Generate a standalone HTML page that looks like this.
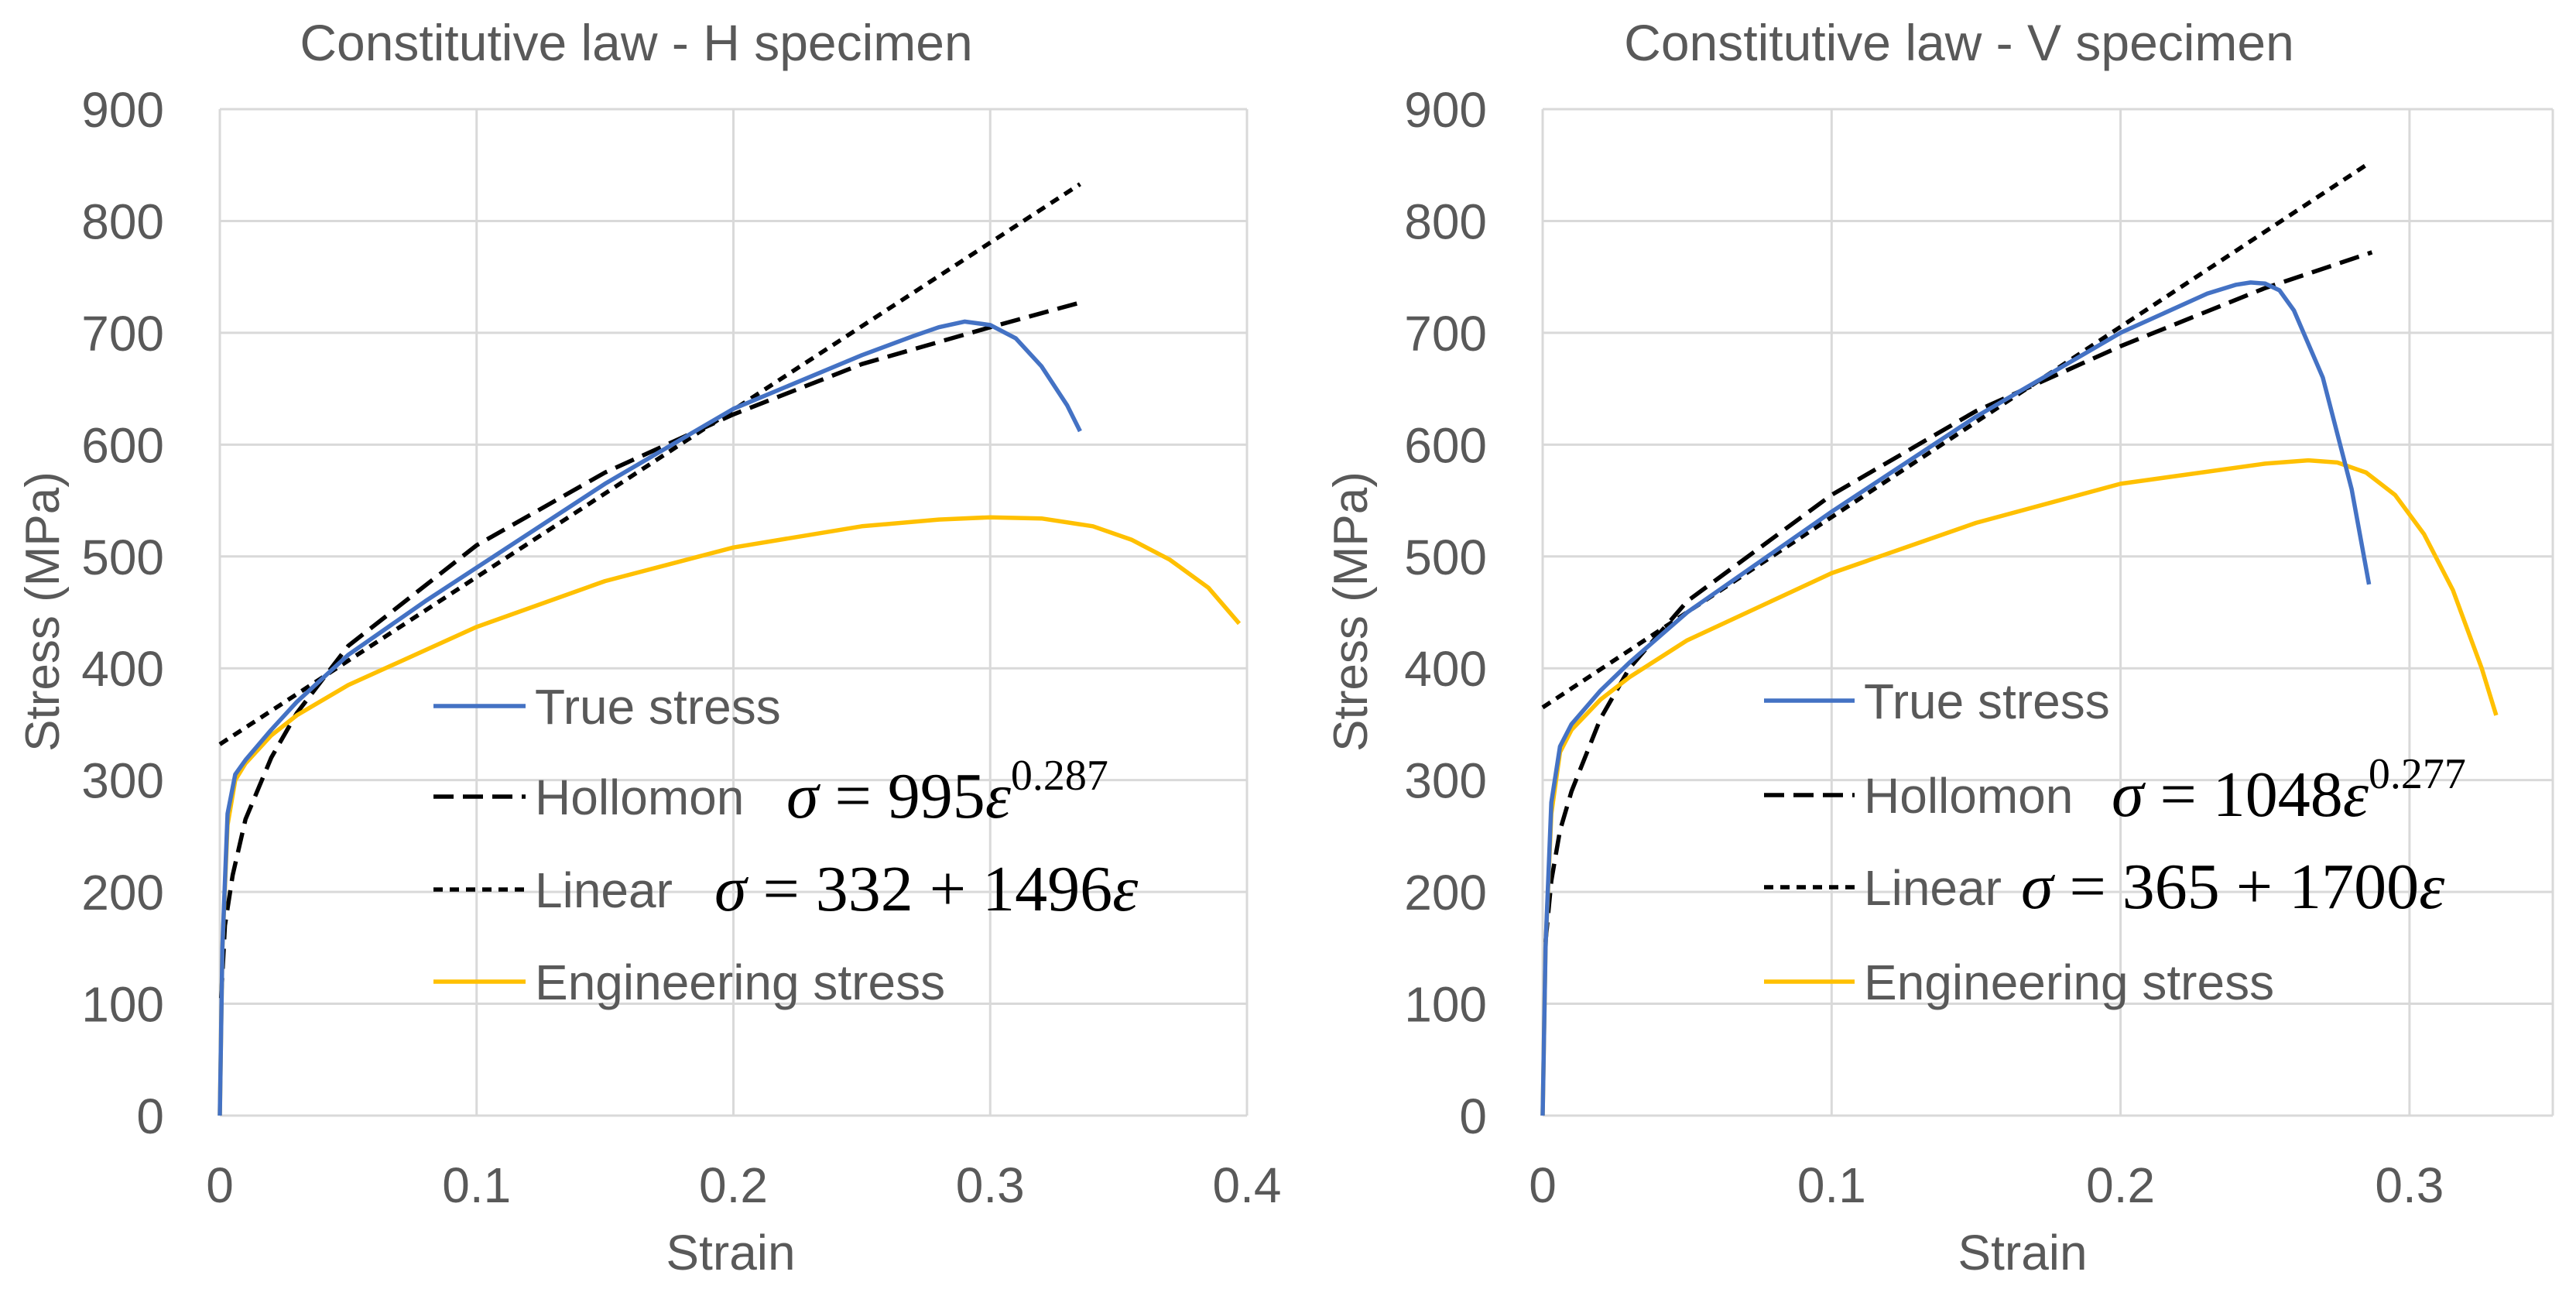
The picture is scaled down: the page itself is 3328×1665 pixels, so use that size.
<!DOCTYPE html>
<html><head><meta charset="utf-8"><style>
body{margin:0;background:#fff;}
svg text{font-family:"Liberation Sans",sans-serif;fill:#595959;}
.eq{font-family:"Liberation Serif",serif;fill:#000;}
</style></head><body>
<svg id="svg" width="3328" height="1660" xmlns="http://www.w3.org/2000/svg"></svg>
<script>
// ===== Data =====
const yTicks=[0,100,200,300,400,500,600,700,800,900];
const xTicksH=[0,0.1,0.2,0.3,0.4];
const xTicksV=[0,0.1,0.2,0.3];
const hTrueX=[0,0.001,0.003,0.006,0.01,0.02,0.03,0.05,0.08,0.1,0.15,0.2,0.25,0.27,0.28,0.29,0.3,0.31,0.32,0.33,0.335];
const hTrueY=[0,150,270,305,318,345,370,412,460,490,565,632,680,697,705,710,707,695,670,635,612];
const hEngX=[0,0.001,0.003,0.006,0.01,0.02,0.03,0.05,0.1,0.15,0.2,0.25,0.28,0.3,0.32,0.34,0.355,0.37,0.385,0.397];
const hEngY=[0,150,260,300,315,340,358,385,437,478,508,527,533,535,534,527,515,497,472,440];
const hHolX=[0.0005,0.002,0.005,0.01,0.02,0.03,0.05,0.1,0.15,0.2,0.25,0.3,0.335];
const hHolY=[105,170,215,265,320,360,420,510,575,627,672,705,727];
const hLinX=[0,0.335];
const hLinY=[332,833];
const vTrueX=[0,0.001,0.003,0.006,0.01,0.02,0.03,0.05,0.1,0.15,0.2,0.23,0.24,0.245,0.25,0.255,0.26,0.27,0.28,0.286];
const vTrueY=[0,150,280,330,350,380,405,450,540,625,700,735,743,745,744,738,720,660,560,475];
const vEngX=[0,0.001,0.003,0.006,0.01,0.02,0.03,0.05,0.1,0.15,0.2,0.25,0.265,0.275,0.285,0.295,0.305,0.315,0.325,0.33];
const vEngY=[0,150,270,325,345,372,392,425,485,530,565,583,586,584,575,555,520,470,400,358];
const vHolX=[0.001,0.003,0.006,0.01,0.02,0.03,0.05,0.1,0.15,0.2,0.25,0.287];
const vHolY=[155,210,255,290,355,400,460,555,630,688,740,772];
const vLinX=[0,0.285];
const vLinY=[365,850];

const NS="http://www.w3.org/2000/svg";
const svg=document.getElementById('svg');
function mk(tag,attrs,parent){const e=document.createElementNS(NS,tag);for(const k in attrs)e.setAttribute(k,attrs[k]);(parent||svg).appendChild(e);return e;}

function chart(cfg){
  const g=mk('g',{});
  
  
  const X=v=>cfg.x0+v*cfg.xs, Y=v=>1441-v*(1300/900);
  yTicks.forEach(t=>{
    const l=mk('line',{x1:cfg.x0,x2:cfg.xr,y1:Y(t),y2:Y(t),stroke:'#d9d9d9','stroke-width':3},g);
    
    
    const tx=mk('text',{x:cfg.x0-72,y:Y(t)+23,'text-anchor':'end','font-size':64},g);
    tx.textContent=t;
    
    
  });
  cfg.xt.forEach(t=>{
    const l=mk('line',{x1:X(t),x2:X(t),y1:Y(0),y2:Y(900),stroke:'#d9d9d9','stroke-width':3},g);
    
    
    const tx=mk('text',{x:X(t),y:1553,'text-anchor':'middle','font-size':64},g);
    tx.textContent=t;
    
    
  });
  if(cfg.xr>X(cfg.xt[cfg.xt.length-1])+5){
    const l=mk('line',{x1:cfg.xr,x2:cfg.xr,y1:Y(0),y2:Y(900),stroke:'#d9d9d9','stroke-width':3},g);
    
    
  }
  const ti=mk('text',{x:cfg.tx,y:78,'text-anchor':'middle','font-size':66},g);
  ti.textContent=cfg.title;
  
  
  const yt=mk('text',{x:0,y:0,'text-anchor':'middle','font-size':62,transform:`translate(${cfg.ytx},790) rotate(-90)`},g);
  yt.textContent='Stress (MPa)';
  
  
  const xt=mk('text',{x:cfg.sx,y:1640,'text-anchor':'middle','font-size':64},g);
  xt.textContent='Strain';
  
  
  const series=[
    [cfg.lin,'#000','12 9','linear-fit-line'],
    [cfg.hol,'#000','26 12','hollomon-fit-line'],
    [cfg.eng,'#ffc000','','engineering-stress-line'],
    [cfg.tru,'#4472c4','','true-stress-line']];
  series.forEach(s=>{
    const [xs,ys]=s[0];
    const d=xs.map((v,i)=>(i?'L':'M')+X(v).toFixed(1)+','+Y(ys[i]).toFixed(1)).join(' ');
    const p=mk('path',{d,fill:'none',stroke:s[1],'stroke-width':5.5,'stroke-dasharray':s[2],'stroke-linejoin':'round'},g);
    
    
  });
  const L=cfg.leg;
  const items=[['#4472c4','','True stress',null],['#000','26 12','Hollomon',cfg.holEq],['#000','12 9','Linear',cfg.linEq],['#ffc000','','Engineering stress',null]];
  items.forEach((it,i)=>{
    const y=L.ys[i];
    const lg=mk('g',{},g);
    
    
    mk('line',{x1:L.x1,x2:L.x2,y1:y,y2:y,stroke:it[0],'stroke-width':5.5,'stroke-dasharray':it[1]},lg);
    const t=mk('text',{x:L.x2+12,y:y+23,'font-size':64},lg);
    t.textContent=it[2];
    if(it[3]){
      const e=mk('text',{x:it[3].x,y:y+27,'font-size':84,'class':'eq'},lg);
      
      
      e.innerHTML=it[3].html;
    }
  });
}
chart({name:'h-specimen-chart',title:'Constitutive law - H specimen',x0:284,xs:3317.5,xr:1611,xt:xTicksH,tx:822,sx:944,ytx:76,
  tru:[hTrueX,hTrueY],eng:[hEngX,hEngY],hol:[hHolX,hHolY],lin:[hLinX,hLinY],
  leg:{x1:560,x2:679,ys:[912,1029,1149,1268]},
  holEq:{x:1016,html:'<tspan font-style="italic">σ</tspan> = 995<tspan font-style="italic">ε</tspan><tspan dy="-36" font-size="56">0.287</tspan>'},
  linEq:{x:923,html:'<tspan font-style="italic">σ</tspan> = 332 + 1496<tspan font-style="italic">ε</tspan>'}});
chart({name:'v-specimen-chart',title:'Constitutive law - V specimen',x0:1993,xs:3733,xr:3298,xt:xTicksV,tx:2531,sx:2613,ytx:1766,
  tru:[vTrueX,vTrueY],eng:[vEngX,vEngY],hol:[vHolX,vHolY],lin:[vLinX,vLinY],
  leg:{x1:2279,x2:2396,ys:[905,1027,1146,1268]},
  holEq:{x:2728,html:'<tspan font-style="italic">σ</tspan> = 1048<tspan font-style="italic">ε</tspan><tspan dy="-36" font-size="56">0.277</tspan>'},
  linEq:{x:2611,html:'<tspan font-style="italic">σ</tspan> = 365 + 1700<tspan font-style="italic">ε</tspan>'}});
</script>
</body></html>
